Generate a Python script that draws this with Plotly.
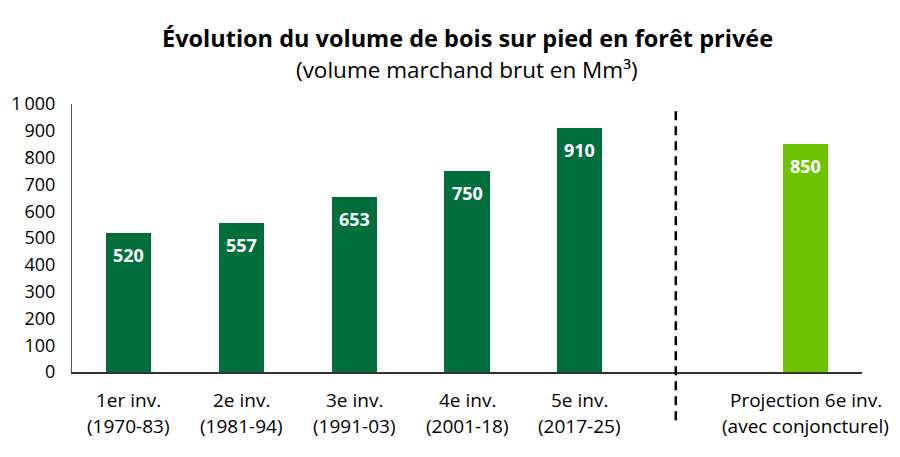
import plotly.graph_objects as go

cat_line1 = ["1er inv.", "2e inv.", "3e inv.", "4e inv.", "5e inv.", "Projection 6e inv."]
cat_line2 = ["(1970-83)", "(1981-94)", "(1991-03)", "(2001-18)", "(2017-25)", "(avec conjoncturel)"]
positions = [0, 1, 2, 3, 4, 6]
values = [520, 557, 653, 750, 910, 850]
colors = ["#006F3C"] * 5 + ["#6CC400"]
y_ticks = [0, 100, 200, 300, 400, 500, 600, 700, 800, 900, 1000]
y_ticktext = ["0", "100", "200", "300", "400", "500", "600", "700", "800", "900", "1\u2009000"]
separator_x = 4.85

FONT = "Open Sans"

fig = go.Figure()
fig.add_trace(go.Bar(
    x=positions, y=values, width=0.4,
    marker=dict(color=colors, line=dict(width=0)),
    hoverinfo="skip",
))

for xp, v in zip(positions, values):
    fig.add_annotation(x=xp, y=v, text=f"<b>{v}</b>", showarrow=False,
                       yshift=-22, font=dict(family=FONT, size=18, color="white"))

for xp, l1, l2 in zip(positions, cat_line1, cat_line2):
    fig.add_annotation(x=xp, xref="x", yref="paper", y=0, yshift=-28, yanchor="middle",
                       text=l1, showarrow=False, font=dict(family=FONT, size=19, color="black"))
    fig.add_annotation(x=xp, xref="x", yref="paper", y=0, yshift=-54, yanchor="middle",
                       text=l2, showarrow=False, font=dict(family=FONT, size=19, color="black"))

fig.add_shape(type="line", xref="x", yref="paper", x0=separator_x, x1=separator_x,
              y0=-0.18, y1=0.975, line=dict(color="black", width=2.5, dash="9px,6px"))

fig.add_annotation(xref="paper", yref="paper", x=0.5, y=1, yshift=66, yanchor="middle",
                   text="<b>Évolution du volume de bois sur pied en forêt privée</b>",
                   showarrow=False, font=dict(family=FONT, size=23.5, color="black"))
fig.add_annotation(xref="paper", yref="paper", x=0.5, y=1, yshift=35, yanchor="middle",
                   text="(volume marchand brut en Mm³)",
                   showarrow=False, font=dict(family=FONT, size=22.5, color="black"))

fig.update_layout(
    width=900, height=457,
    margin=dict(l=72, r=38, t=104, b=85),
    paper_bgcolor="white", plot_bgcolor="white",
    showlegend=False,
    font=dict(family=FONT, color="black"),
    bargap=0,
)
fig.update_xaxes(range=[-0.5, 6.5], tickvals=positions, showticklabels=False,
                 showgrid=False, zeroline=False, showline=True, linecolor="#333333",
                 linewidth=1.5, ticks="", fixedrange=True)
fig.update_yaxes(range=[0, 1000], tickvals=y_ticks, ticktext=y_ticktext,
                 showgrid=False, zeroline=False, showline=True, linecolor="#555555",
                 linewidth=1, ticks="", ticklabelstandoff=12, automargin=False,
                 tickfont=dict(family=FONT, size=18, color="black"), fixedrange=True)

fig.write_html("out.html")
